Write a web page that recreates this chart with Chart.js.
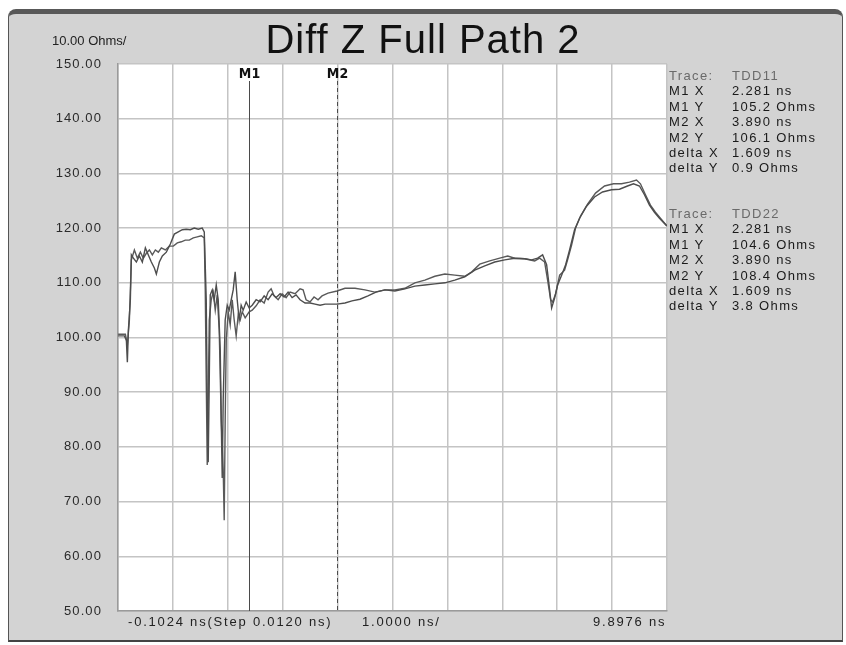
<!DOCTYPE html>
<html>
  <head>
    <title>Diff Z Full Path 2</title>
    <meta charset="UTF-8">
    <script src="https://cdn.jsdelivr.net/npm/chart.js@4.4.1/dist/chart.umd.min.js"></script>
    <style type="text/css">
      body { margin: 0; background: #fff; font-family: "Liberation Sans", Arial, sans-serif; }
      #panel { position: absolute; left: 8px; top: 9px; width: 833px; height: 626px;
        background: #d3d3d3; border: 1px solid #555; border-top: 5px solid #585858;
        border-bottom: 2px solid #444; border-radius: 8px 8px 0 0; }
      #chart { position: absolute; left: 0; top: 0; }
      .txt { position: absolute; color: #222; font-size: 13px; white-space: nowrap; }
      .wide { letter-spacing: 1.8px; }
      #title { position: absolute; left: 0; width: 846px; top: 16px; text-align: center;
        font-size: 40px; line-height: 46px; letter-spacing: 1px; color: #111; }
      .side { position: absolute; left: 669px; font-size: 13px; line-height: 15.4px;
        letter-spacing: 1.35px; color: #1a1a1a; white-space: nowrap; }
      .side span { display: inline-block; width: 63px; }
      .side .grey { color: #6a6a6a; }
    </style>
  </head>
  <body>
    <div id="panel"></div>
    <canvas id="chart" width="846" height="645"></canvas>

    <div id="title">Diff Z Full Path 2</div>
    <div class="txt" style="left:52px; top:33px;">10.00 Ohms/</div>

    <!-- marker readout -->
    <div class="side" style="top:68px;">
      <div class="grey"><span>Trace:</span>TDD11</div>
      <div><span>M1 X</span>2.281 ns</div>
      <div><span>M1 Y</span>105.2 Ohms</div>
      <div><span>M2 X</span>3.890 ns</div>
      <div><span>M2 Y</span>106.1 Ohms</div>
      <div><span>delta X</span>1.609 ns</div>
      <div><span>delta Y</span>0.9 Ohms</div>
    </div>
    <div class="side" style="top:206px;">
      <div class="grey"><span>Trace:</span>TDD22</div>
      <div><span>M1 X</span>2.281 ns</div>
      <div><span>M1 Y</span>104.6 Ohms</div>
      <div><span>M2 X</span>3.890 ns</div>
      <div><span>M2 Y</span>108.4 Ohms</div>
      <div><span>delta X</span>1.609 ns</div>
      <div><span>delta Y</span>3.8 Ohms</div>
    </div>

    <div class="txt wide" style="left:128px; top:614px;">-0.1024 ns(Step 0.0120 ns)</div>
    <div class="txt wide" style="left:362px; top:614px;">1.0000 ns/</div>
    <div class="txt wide" style="left:593px; top:614px;">9.8976 ns</div>

    <script type="text/javascript">
      // grid / tick positions (ns and Ohms)
      const xTicks = [-0.1024, 0.8976, 1.8976, 2.8976, 3.8976, 4.8976, 5.8976, 6.8976, 7.8976, 8.8976, 9.8976]
      const yTicks = [50, 60, 70, 80, 90, 100, 110, 120, 130, 140, 150]

      // markers
      const markerNames = ["M1", "M2"]
      const markerTimes = [2.281, 3.890]

      // TDD11 trace
      const tdd11Time = [-0.10, 0.014, 0.050, 0.068, 0.087, 0.123, 0.141, 0.178, 0.232, 0.287,
        0.341, 0.396, 0.450, 0.505, 0.560, 0.596, 0.651, 0.705, 0.778, 0.851,
        0.923, 0.996, 1.069, 1.141, 1.214, 1.287, 1.360, 1.432, 1.469, 1.505,
        1.523, 1.541, 1.560, 1.578, 1.614, 1.650, 1.687, 1.723, 1.760, 1.778,
        1.796, 1.814, 1.850, 1.887, 1.923, 1.960, 1.996, 2.032, 2.069, 2.105,
        2.141, 2.178, 2.232, 2.287, 2.342, 2.414, 2.487, 2.560, 2.632, 2.705,
        2.778, 2.851, 2.923, 2.996, 3.069, 3.141, 3.214, 3.305, 3.396, 3.487,
        3.578, 3.669, 3.760, 3.887, 4.032, 4.160, 4.305, 4.451, 4.596, 4.760,
        4.941, 5.123, 5.305, 5.487, 5.669, 5.851, 6.032, 6.214, 6.396, 6.578,
        6.760, 6.942, 7.123, 7.305, 7.432, 7.541, 7.632, 7.705, 7.760, 7.796,
        7.851, 7.905, 7.978, 8.051, 8.123, 8.214, 8.305, 8.432, 8.578, 8.723,
        8.887, 9.032, 9.178, 9.287, 9.396, 9.487, 9.578, 9.669, 9.760, 9.895]
      const tdd11Ohms = [100.3, 100.3, 99.5, 95.5, 101.4, 106.9, 115.1, 114.5, 113.8, 114.9,
        113.8, 116.4, 115.1, 113.8, 112.7, 111.6, 113.8, 114.9, 115.6, 117.1,
        118.9, 119.3, 119.7, 119.8, 119.7, 120.0, 119.8, 120.0, 119.3, 106.9,
        88.6, 77.2, 92.2, 107.8, 108.7, 106.9, 109.6, 106.9, 97.7, 84.9,
        74.3, 88.6, 103.2, 105.9, 105.0, 106.9, 108.7, 112.0, 106.9, 103.2,
        105.9, 105.0, 106.5, 105.4, 105.9, 106.9, 106.5, 107.6, 106.9, 108.0,
        107.3, 108.0, 107.4, 108.3, 107.3, 107.8, 106.9, 106.3, 106.3, 106.1,
        105.9, 106.1, 106.1, 106.1, 106.3, 106.7, 107.0, 107.6, 108.3, 108.7,
        108.5, 108.9, 109.4, 109.6, 109.8, 110.0, 110.5, 111.1, 112.3, 113.1,
        113.8, 114.2, 114.5, 114.4, 114.2, 114.5, 115.1, 113.3, 108.7, 105.4,
        107.2, 109.6, 111.4, 113.3, 116.0, 119.7, 121.8, 124.0, 125.7, 126.6,
        127.0, 127.1, 127.7, 128.1, 127.7, 126.1, 124.2, 122.9, 121.8, 120.4]

      // TDD22 trace
      const tdd22Time = [-0.10, 0.032, 0.068, 0.105, 0.141, 0.196, 0.250, 0.305, 0.359, 0.414,
        0.469, 0.523, 0.578, 0.632, 0.687, 0.760, 0.832, 0.905, 0.978, 1.050,
        1.123, 1.196, 1.269, 1.341, 1.414, 1.469, 1.487, 1.505, 1.523, 1.541,
        1.560, 1.596, 1.632, 1.669, 1.705, 1.741, 1.778, 1.814, 1.832, 1.850,
        1.869, 1.905, 1.941, 1.978, 2.014, 2.050, 2.087, 2.123, 2.160, 2.214,
        2.287, 2.342, 2.414, 2.487, 2.560, 2.632, 2.687, 2.742, 2.814, 2.887,
        2.960, 3.032, 3.123, 3.214, 3.269, 3.323, 3.396, 3.469, 3.541, 3.614,
        3.723, 3.887, 4.032, 4.214, 4.396, 4.578, 4.760, 4.941, 5.123, 5.305,
        5.487, 5.669, 5.851, 6.032, 6.214, 6.342, 6.487, 6.669, 6.851, 6.996,
        7.123, 7.305, 7.487, 7.578, 7.669, 7.723, 7.778, 7.814, 7.869, 7.942,
        8.032, 8.087, 8.160, 8.232, 8.323, 8.451, 8.596, 8.760, 8.923, 9.069,
        9.214, 9.342, 9.414, 9.505, 9.596, 9.687, 9.778, 9.895]
      const tdd22Ohms = [100.6, 100.6, 98.6, 103.2, 114.2, 116.0, 114.5, 115.6, 114.5, 115.4,
        116.0, 115.1, 116.0, 115.6, 116.4, 116.0, 116.7, 116.7, 117.3, 117.5,
        117.8, 117.8, 118.2, 118.4, 118.6, 118.2, 108.7, 92.2, 76.7, 88.6,
        103.2, 106.9, 108.3, 105.0, 107.8, 101.4, 84.9, 75.8, 66.6, 84.9,
        99.5, 104.7, 102.3, 106.9, 103.2, 100.3, 104.1, 103.2, 104.7, 103.6,
        104.7, 105.0, 105.8, 106.9, 106.3, 108.3, 108.9, 107.6, 106.9, 108.0,
        107.3, 108.3, 108.0, 108.9, 108.7, 106.9, 106.5, 107.4, 106.9, 107.6,
        108.1, 108.5, 109.0, 109.0, 108.7, 108.3, 108.7, 108.7, 109.0, 110.0,
        110.5, 111.2, 111.6, 111.4, 111.2, 112.0, 113.4, 114.0, 114.5, 114.9,
        114.5, 114.4, 114.0, 114.5, 113.8, 110.5, 106.9, 106.5, 108.0, 111.4,
        112.3, 114.2, 116.9, 120.0, 122.2, 124.4, 126.4, 127.7, 128.1, 128.1,
        128.4, 128.8, 128.1, 126.1, 124.2, 122.9, 121.8, 120.4]

      const toPoints = (xs, ys) => xs.map((x, i) => ({x: x, y: ys[i]}))

      // white plot area, plus a little spacing for the canvas text
      const plotBackground = {
        id: 'plotBackground',
        beforeDraw(chart) {
          const a = chart.chartArea
          const ctx = chart.ctx
          ctx.letterSpacing = '1.1px'
          ctx.save()
          ctx.fillStyle = '#ffffff'
          ctx.fillRect(a.left, a.top, a.right - a.left, a.bottom - a.top)
          ctx.restore()
        }
      }

      // M1 / M2 marker lines
      const markers = {
        id: 'markers',
        afterDatasetsDraw(chart) {
          const a = chart.chartArea
          const ctx = chart.ctx
          ctx.save()
          markerTimes.forEach((t, i) => {
            const px = Math.round(chart.scales.x.getPixelForValue(t)) + 0.5
            ctx.strokeStyle = '#4a4a4a'
            ctx.lineWidth = 1
            ctx.setLineDash(i == 0 ? [] : [4, 3])
            ctx.beginPath()
            ctx.moveTo(px, a.top + 17)
            ctx.lineTo(px, a.bottom)
            ctx.stroke()
            ctx.setLineDash([])
            ctx.letterSpacing = '0px'
            ctx.fillStyle = '#111'
            ctx.font = 'bold 14px "Liberation Sans Narrow", "DejaVu Sans Condensed", Arial'
            ctx.textAlign = 'center'
            ctx.textBaseline = 'alphabetic'
            ctx.fillText(markerNames[i], px, a.top + 14)
          })
          ctx.restore()
        }
      }

      var ctx = document.getElementById("chart");

      var data = {
        datasets: [
          {
            label: "TDD11",
            data: toPoints(tdd11Time, tdd11Ohms),
            borderColor: '#4d4d4d',
            borderWidth: 1.4,
            pointRadius: 0,
            tension: 0
          },
          {
            label: "TDD22",
            data: toPoints(tdd22Time, tdd22Ohms),
            borderColor: '#595959',
            borderWidth: 1.4,
            pointRadius: 0,
            tension: 0
          }
        ]
      }

      var tdrChart = new Chart(ctx, {
        type: 'line',
        data: data,
        plugins: [plotBackground, markers],
        options: {
          responsive: false,
          animation: false,
          layout: { padding: { left: 0, right: 179, top: 64, bottom: 34 } },
          plugins: { legend: { display: false }, tooltip: { enabled: false } },
          scales: {
            x: {
              type: 'linear',
              min: xTicks[0],
              max: xTicks[xTicks.length - 1],
              afterBuildTicks: scale => { scale.ticks = xTicks.map(v => ({value: v})) },
              afterFit: scale => { scale.height = 0 },
              ticks: { display: false },
              grid: { color: '#c4c4c4', lineWidth: 1.5, drawTicks: false },
              border: { color: '#9a9a9a', width: 1.5 }
            },
            y: {
              min: yTicks[0],
              max: yTicks[yTicks.length - 1],
              afterBuildTicks: scale => { scale.ticks = yTicks.map(v => ({value: v})) },
              afterFit: scale => { scale.width = 118 },
              ticks: {
                padding: 16,
                color: '#2a2a2a',
                font: { family: '"Liberation Sans", Arial', size: 13 },
                callback: v => v.toFixed(2)
              },
              grid: { color: '#c4c4c4', lineWidth: 1.5, drawTicks: false },
              border: { color: '#9a9a9a', width: 1.5 }
            }
          }
        }
      });
    </script>
  </body>
</html>
